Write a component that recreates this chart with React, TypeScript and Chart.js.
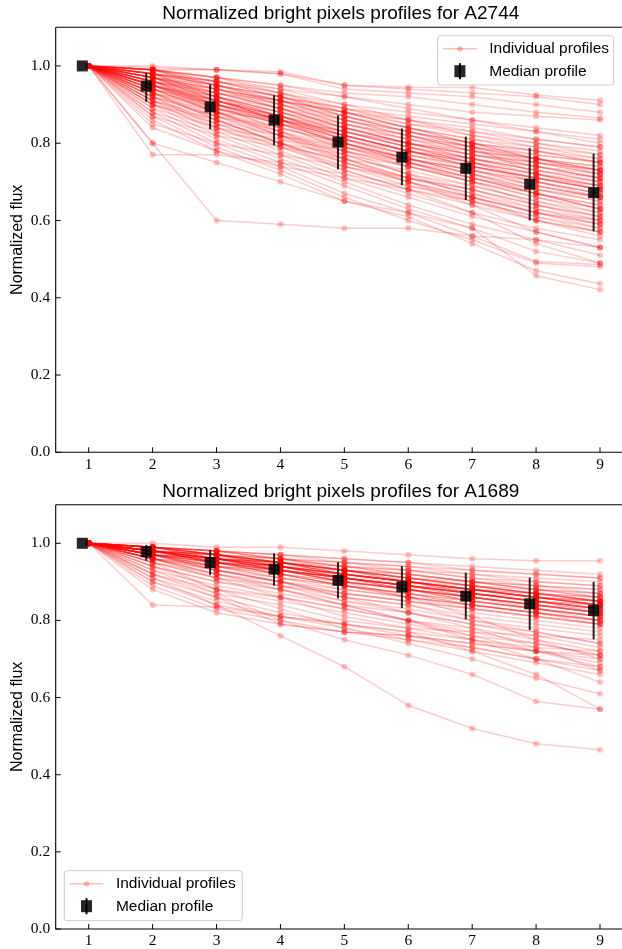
import React, { useEffect, useRef } from 'react';
import { Chart, registerables } from 'chart.js';

Chart.register(...registerables);

const steps = [1, 2, 3, 4, 5, 6, 7, 8, 9];
const xTicks = [1, 2, 3, 4, 5, 6, 7, 8, 9];
const yTicks = [0, 0.2, 0.4, 0.6, 0.8, 1.0];

const a2744Title = 'Normalized bright pixels profiles for A2744';
const a1689Title = 'Normalized bright pixels profiles for A1689';

const a2744Median = [1.0, 0.948, 0.894, 0.86, 0.803, 0.764, 0.735, 0.694, 0.672];
const a2744Low = [1.0, 0.907, 0.836, 0.795, 0.732, 0.691, 0.653, 0.6, 0.572];
const a2744High = [1.0, 0.981, 0.952, 0.924, 0.872, 0.838, 0.817, 0.788, 0.773];

const a1689Median = [1.0, 0.978, 0.95, 0.933, 0.904, 0.887, 0.863, 0.843, 0.826];
const a1689Low = [1.0, 0.955, 0.918, 0.89, 0.857, 0.832, 0.803, 0.775, 0.751];
const a1689High = [1.0, 0.996, 0.983, 0.974, 0.951, 0.941, 0.924, 0.911, 0.9];

const a2744Profiles: number[][] = [
  [1, 0.995, 0.99, 0.985, 0.95, 0.945, 0.944, 0.925, 0.911],
  [1, 0.99, 0.97, 0.95, 0.93, 0.92, 0.9, 0.88, 0.865],
  [1, 0.98, 0.96, 0.94, 0.92, 0.9, 0.88, 0.87, 0.86],
  [1, 0.99, 0.96, 0.93, 0.9, 0.88, 0.86, 0.84, 0.82],
  [1, 0.98, 0.95, 0.92, 0.89, 0.87, 0.85, 0.83, 0.81],
  [1, 0.97, 0.94, 0.91, 0.88, 0.86, 0.83, 0.81, 0.79],
  [1, 0.99, 0.95, 0.9, 0.86, 0.83, 0.8, 0.78, 0.76],
  [1, 0.98, 0.93, 0.89, 0.85, 0.82, 0.79, 0.76, 0.74],
  [1, 0.97, 0.92, 0.88, 0.84, 0.8, 0.77, 0.75, 0.72],
  [1, 0.96, 0.91, 0.87, 0.82, 0.78, 0.75, 0.72, 0.7],
  [1, 0.96, 0.9, 0.86, 0.81, 0.77, 0.74, 0.71, 0.68],
  [1, 0.95, 0.9, 0.85, 0.8, 0.76, 0.73, 0.7, 0.67],
  [1, 0.95, 0.89, 0.84, 0.79, 0.75, 0.72, 0.68, 0.66],
  [1, 0.94, 0.88, 0.83, 0.78, 0.74, 0.7, 0.67, 0.64],
  [1, 0.94, 0.88, 0.82, 0.77, 0.72, 0.69, 0.65, 0.62],
  [1, 0.93, 0.87, 0.81, 0.76, 0.71, 0.67, 0.63, 0.6],
  [1, 0.93, 0.86, 0.8, 0.75, 0.7, 0.66, 0.62, 0.59],
  [1, 0.92, 0.85, 0.79, 0.73, 0.68, 0.64, 0.6, 0.57],
  [1, 0.92, 0.84, 0.78, 0.72, 0.67, 0.62, 0.58, 0.55],
  [1, 0.91, 0.83, 0.77, 0.71, 0.66, 0.61, 0.57, 0.53],
  [1, 0.9, 0.82, 0.76, 0.7, 0.64, 0.59, 0.55, 0.51],
  [1, 0.89, 0.81, 0.75, 0.69, 0.63, 0.58, 0.52, 0.49],
  [1, 0.88, 0.8, 0.74, 0.67, 0.62, 0.56, 0.494, 0.486],
  [1, 0.87, 0.79, 0.73, 0.66, 0.6, 0.55, 0.49, 0.48],
  [1, 0.86, 0.78, 0.72, 0.65, 0.61, 0.54, 0.47, 0.436],
  [1, 0.8, 0.75, 0.7, 0.65, 0.62, 0.58, 0.457, 0.421],
  [1, 0.77, 0.77, 0.75, 0.72, 0.69, 0.66, 0.62, 0.6],
  [1, 0.8, 0.6, 0.59, 0.58, 0.58, 0.56, 0.55, 0.53],
  [1, 0.99, 0.99, 0.98, 0.95, 0.94, 0.93, 0.92, 0.9],
  [1, 1.0, 0.99, 0.98, 0.94, 0.93, 0.92, 0.9, 0.88],
  [1, 0.97, 0.93, 0.9, 0.87, 0.84, 0.81, 0.79, 0.77],
  [1, 0.96, 0.92, 0.89, 0.86, 0.83, 0.8, 0.78, 0.75],
  [1, 0.95, 0.91, 0.88, 0.85, 0.82, 0.78, 0.76, 0.73],
  [1, 0.97, 0.91, 0.86, 0.83, 0.79, 0.76, 0.73, 0.71],
  [1, 0.96, 0.89, 0.85, 0.82, 0.78, 0.76, 0.74, 0.72],
  [1, 0.95, 0.88, 0.86, 0.83, 0.8, 0.77, 0.75, 0.73],
  [1, 0.94, 0.9, 0.87, 0.84, 0.81, 0.79, 0.77, 0.75],
  [1, 0.93, 0.89, 0.86, 0.81, 0.78, 0.75, 0.72, 0.69],
  [1, 0.92, 0.87, 0.84, 0.8, 0.76, 0.73, 0.7, 0.67],
  [1, 0.91, 0.86, 0.82, 0.78, 0.74, 0.71, 0.68, 0.65],
  [1, 0.9, 0.85, 0.82, 0.79, 0.76, 0.72, 0.69, 0.66],
  [1, 0.89, 0.84, 0.81, 0.78, 0.75, 0.71, 0.67, 0.63],
  [1, 0.88, 0.83, 0.8, 0.77, 0.74, 0.7, 0.66, 0.62],
  [1, 0.87, 0.82, 0.79, 0.76, 0.73, 0.69, 0.65, 0.61],
  [1, 0.99, 0.97, 0.93, 0.88, 0.84, 0.8, 0.76, 0.73],
  [1, 0.98, 0.94, 0.9, 0.85, 0.81, 0.78, 0.74, 0.71],
  [1, 0.97, 0.93, 0.89, 0.84, 0.8, 0.76, 0.73, 0.7],
  [1, 0.96, 0.94, 0.91, 0.87, 0.83, 0.79, 0.75, 0.73],
  [1, 0.95, 0.92, 0.88, 0.83, 0.79, 0.75, 0.71, 0.68],
  [1, 0.94, 0.91, 0.87, 0.82, 0.78, 0.74, 0.7, 0.67],
  [1, 0.98, 0.96, 0.92, 0.87, 0.83, 0.79, 0.72, 0.68],
  [1, 0.99, 0.97, 0.94, 0.9, 0.86, 0.82, 0.79, 0.76],
  [1, 0.97, 0.95, 0.92, 0.89, 0.86, 0.84, 0.81, 0.79],
  [1, 0.96, 0.93, 0.91, 0.88, 0.85, 0.83, 0.8, 0.78],
  [1, 0.93, 0.9, 0.86, 0.8, 0.75, 0.7, 0.64, 0.6],
  [1, 0.92, 0.88, 0.83, 0.77, 0.72, 0.66, 0.6, 0.56],
  [1, 0.91, 0.87, 0.82, 0.75, 0.7, 0.64, 0.57, 0.53],
  [1, 0.9, 0.86, 0.8, 0.73, 0.68, 0.62, 0.54, 0.49],
  [1, 0.85, 0.8, 0.77, 0.74, 0.71, 0.68, 0.64, 0.61],
  [1, 0.84, 0.78, 0.74, 0.71, 0.68, 0.65, 0.61, 0.58],
  [1, 0.95, 0.9, 0.83, 0.76, 0.7, 0.65, 0.6, 0.57],
  [1, 0.98, 0.92, 0.85, 0.78, 0.72, 0.68, 0.63, 0.59],
  [1, 0.99, 0.96, 0.92, 0.87, 0.83, 0.8, 0.77, 0.75],
  [1, 0.98, 0.95, 0.91, 0.86, 0.82, 0.79, 0.76, 0.73],
  [1, 0.97, 0.94, 0.9, 0.85, 0.81, 0.77, 0.74, 0.71],
  [1, 0.99, 0.94, 0.89, 0.84, 0.8, 0.76, 0.72, 0.69],
  [1, 0.98, 0.92, 0.87, 0.82, 0.78, 0.74, 0.71, 0.68],
  [1, 0.97, 0.91, 0.86, 0.81, 0.77, 0.73, 0.69, 0.66],
  [1, 0.96, 0.9, 0.85, 0.8, 0.76, 0.72, 0.68, 0.65],
  [1, 0.95, 0.89, 0.85, 0.8, 0.75, 0.71, 0.67, 0.64],
  [1, 0.96, 0.92, 0.88, 0.83, 0.79, 0.76, 0.73, 0.7],
  [1, 0.95, 0.91, 0.86, 0.82, 0.78, 0.75, 0.72, 0.69],
  [1, 0.94, 0.89, 0.85, 0.81, 0.77, 0.74, 0.71, 0.68],
  [1, 0.93, 0.88, 0.84, 0.8, 0.76, 0.73, 0.69, 0.66],
  [1, 0.92, 0.87, 0.83, 0.79, 0.75, 0.71, 0.67, 0.63],
  [1, 0.99, 0.95, 0.91, 0.88, 0.84, 0.81, 0.78, 0.75],
  [1, 0.98, 0.96, 0.93, 0.89, 0.85, 0.82, 0.8, 0.77],
  [1, 0.97, 0.94, 0.91, 0.86, 0.82, 0.78, 0.75, 0.72],
  [1, 0.96, 0.91, 0.87, 0.83, 0.79, 0.75, 0.7, 0.66],
  [1, 0.95, 0.9, 0.86, 0.79, 0.74, 0.7, 0.66, 0.63],
  [1, 0.94, 0.88, 0.82, 0.76, 0.71, 0.67, 0.62, 0.58],
  [1, 0.93, 0.86, 0.8, 0.74, 0.69, 0.65, 0.61, 0.57],
  [1, 0.91, 0.85, 0.8, 0.75, 0.71, 0.68, 0.64, 0.61],
  [1, 0.9, 0.84, 0.79, 0.74, 0.7, 0.66, 0.62, 0.59],
  [1, 0.97, 0.92, 0.87, 0.81, 0.76, 0.72, 0.67, 0.63],
  [1, 0.99, 0.97, 0.95, 0.92, 0.89, 0.86, 0.83, 0.8],
  [1, 0.98, 0.95, 0.92, 0.88, 0.84, 0.8, 0.76, 0.72],
  [1, 0.96, 0.93, 0.89, 0.84, 0.8, 0.77, 0.74, 0.71],
  [1, 0.95, 0.91, 0.87, 0.83, 0.8, 0.78, 0.76, 0.74],
  [1, 0.94, 0.9, 0.86, 0.82, 0.78, 0.74, 0.71, 0.69],
];

const a1689Profiles: number[][] = [
  [1, 1.0, 0.99, 0.99, 0.98, 0.97, 0.96, 0.955, 0.955],
  [1, 0.99, 0.98, 0.97, 0.96, 0.95, 0.94, 0.93, 0.92],
  [1, 0.99, 0.98, 0.96, 0.95, 0.94, 0.93, 0.92, 0.91],
  [1, 0.99, 0.97, 0.96, 0.94, 0.93, 0.92, 0.9, 0.89],
  [1, 0.99, 0.97, 0.95, 0.93, 0.92, 0.9, 0.89, 0.88],
  [1, 0.98, 0.96, 0.95, 0.93, 0.91, 0.89, 0.88, 0.87],
  [1, 0.98, 0.96, 0.94, 0.92, 0.9, 0.88, 0.87, 0.86],
  [1, 0.98, 0.96, 0.94, 0.91, 0.89, 0.88, 0.86, 0.85],
  [1, 0.98, 0.95, 0.93, 0.91, 0.89, 0.87, 0.85, 0.84],
  [1, 0.98, 0.95, 0.93, 0.9, 0.88, 0.86, 0.84, 0.83],
  [1, 0.97, 0.95, 0.92, 0.9, 0.88, 0.86, 0.84, 0.82],
  [1, 0.97, 0.94, 0.92, 0.89, 0.87, 0.85, 0.83, 0.81],
  [1, 0.97, 0.94, 0.91, 0.89, 0.87, 0.84, 0.82, 0.8],
  [1, 0.97, 0.93, 0.91, 0.88, 0.86, 0.83, 0.81, 0.79],
  [1, 0.96, 0.93, 0.9, 0.88, 0.86, 0.84, 0.82, 0.8],
  [1, 0.96, 0.93, 0.9, 0.87, 0.85, 0.83, 0.81, 0.79],
  [1, 0.96, 0.92, 0.9, 0.87, 0.85, 0.82, 0.8, 0.78],
  [1, 0.99, 0.97, 0.95, 0.92, 0.9, 0.88, 0.86, 0.84],
  [1, 0.99, 0.96, 0.94, 0.91, 0.89, 0.86, 0.84, 0.82],
  [1, 0.98, 0.97, 0.95, 0.93, 0.91, 0.89, 0.87, 0.85],
  [1, 0.98, 0.95, 0.94, 0.92, 0.9, 0.88, 0.86, 0.84],
  [1, 0.97, 0.96, 0.94, 0.92, 0.9, 0.87, 0.85, 0.83],
  [1, 0.99, 0.98, 0.96, 0.94, 0.92, 0.9, 0.88, 0.86],
  [1, 0.98, 0.96, 0.93, 0.91, 0.89, 0.87, 0.85, 0.83],
  [1, 0.97, 0.95, 0.93, 0.91, 0.88, 0.86, 0.84, 0.82],
  [1, 0.99, 0.97, 0.94, 0.91, 0.88, 0.85, 0.83, 0.81],
  [1, 0.98, 0.95, 0.92, 0.89, 0.86, 0.84, 0.82, 0.8],
  [1, 0.95, 0.92, 0.89, 0.87, 0.85, 0.83, 0.81, 0.79],
  [1, 0.95, 0.91, 0.89, 0.86, 0.84, 0.81, 0.79, 0.77],
  [1, 0.94, 0.9, 0.88, 0.85, 0.83, 0.8, 0.78, 0.76],
  [1, 0.94, 0.9, 0.87, 0.84, 0.82, 0.79, 0.77, 0.74],
  [1, 0.93, 0.89, 0.86, 0.83, 0.8, 0.78, 0.75, 0.72],
  [1, 0.92, 0.88, 0.85, 0.82, 0.79, 0.76, 0.74, 0.71],
  [1, 0.92, 0.87, 0.84, 0.8, 0.78, 0.75, 0.72, 0.69],
  [1, 0.91, 0.86, 0.82, 0.79, 0.76, 0.73, 0.7, 0.67],
  [1, 0.9, 0.84, 0.81, 0.78, 0.75, 0.72, 0.69, 0.66],
  [1, 0.89, 0.83, 0.8, 0.77, 0.75, 0.73, 0.7, 0.68],
  [1, 0.88, 0.82, 0.79, 0.77, 0.76, 0.74, 0.72, 0.7],
  [1, 0.84, 0.835, 0.81, 0.79, 0.77, 0.75, 0.73, 0.72],
  [1, 0.91, 0.84, 0.76, 0.68, 0.58, 0.52, 0.48, 0.465],
  [1, 0.93, 0.87, 0.8, 0.75, 0.71, 0.66, 0.59, 0.57],
  [1, 0.95, 0.88, 0.83, 0.78, 0.74, 0.7, 0.65, 0.61],
  [1, 0.96, 0.92, 0.88, 0.84, 0.8, 0.75, 0.7, 0.64],
  [1, 0.97, 0.93, 0.9, 0.86, 0.82, 0.78, 0.73, 0.67],
  [1, 0.98, 0.96, 0.93, 0.9, 0.86, 0.81, 0.75, 0.7],
  [1, 0.92, 0.86, 0.79, 0.77, 0.76, 0.74, 0.72, 0.71],
  [1, 0.96, 0.91, 0.86, 0.81, 0.78, 0.77, 0.76, 0.75],
  [1, 0.9, 0.85, 0.81, 0.79, 0.77, 0.72, 0.66, 0.57],
  [1, 0.99, 0.98, 0.97, 0.95, 0.94, 0.92, 0.91, 0.9],
  [1, 0.99, 0.97, 0.96, 0.95, 0.93, 0.91, 0.9, 0.89],
  [1, 0.98, 0.97, 0.96, 0.94, 0.92, 0.9, 0.89, 0.88],
  [1, 0.99, 0.98, 0.97, 0.96, 0.95, 0.93, 0.92, 0.91],
  [1, 0.98, 0.97, 0.95, 0.94, 0.93, 0.91, 0.89, 0.87],
  [1, 0.97, 0.96, 0.95, 0.93, 0.92, 0.9, 0.88, 0.86],
  [1, 0.97, 0.96, 0.94, 0.93, 0.91, 0.89, 0.87, 0.85],
  [1, 0.98, 0.96, 0.95, 0.93, 0.91, 0.9, 0.88, 0.87],
  [1, 0.98, 0.97, 0.95, 0.92, 0.9, 0.89, 0.87, 0.86],
  [1, 0.97, 0.95, 0.94, 0.92, 0.9, 0.88, 0.86, 0.85],
  [1, 0.96, 0.94, 0.93, 0.91, 0.89, 0.87, 0.85, 0.84],
  [1, 0.96, 0.95, 0.93, 0.91, 0.89, 0.87, 0.86, 0.84],
  [1, 0.99, 0.97, 0.95, 0.93, 0.91, 0.89, 0.87, 0.85],
  [1, 0.98, 0.96, 0.94, 0.92, 0.9, 0.88, 0.86, 0.84],
  [1, 0.98, 0.96, 0.93, 0.91, 0.89, 0.87, 0.85, 0.83],
  [1, 0.99, 0.96, 0.94, 0.92, 0.89, 0.87, 0.85, 0.83],
  [1, 0.98, 0.95, 0.93, 0.91, 0.88, 0.86, 0.84, 0.82],
  [1, 0.97, 0.95, 0.93, 0.9, 0.88, 0.86, 0.83, 0.81],
  [1, 0.98, 0.96, 0.94, 0.91, 0.89, 0.86, 0.84, 0.82],
  [1, 0.99, 0.97, 0.94, 0.92, 0.9, 0.88, 0.86, 0.85],
  [1, 0.98, 0.95, 0.94, 0.91, 0.89, 0.87, 0.85, 0.83],
  [1, 0.97, 0.94, 0.93, 0.9, 0.88, 0.85, 0.83, 0.81],
  [1, 0.98, 0.96, 0.95, 0.92, 0.9, 0.88, 0.86, 0.84],
  [1, 0.97, 0.96, 0.93, 0.91, 0.89, 0.87, 0.85, 0.82],
  [1, 0.99, 0.97, 0.95, 0.92, 0.9, 0.87, 0.85, 0.83],
  [1, 0.98, 0.95, 0.92, 0.9, 0.88, 0.86, 0.84, 0.82],
  [1, 0.97, 0.95, 0.92, 0.89, 0.87, 0.85, 0.83, 0.8],
  [1, 0.98, 0.97, 0.94, 0.92, 0.9, 0.88, 0.87, 0.85],
  [1, 0.99, 0.96, 0.95, 0.93, 0.9, 0.88, 0.86, 0.84],
  [1, 0.97, 0.94, 0.92, 0.89, 0.87, 0.84, 0.82, 0.8],
  [1, 0.96, 0.94, 0.91, 0.89, 0.86, 0.84, 0.82, 0.79],
  [1, 0.98, 0.96, 0.93, 0.9, 0.88, 0.85, 0.83, 0.81],
  [1, 0.99, 0.98, 0.96, 0.93, 0.91, 0.89, 0.87, 0.85],
  [1, 0.98, 0.97, 0.95, 0.93, 0.9, 0.88, 0.86, 0.84],
  [1, 0.97, 0.93, 0.9, 0.86, 0.84, 0.8, 0.77, 0.74],
  [1, 0.96, 0.92, 0.89, 0.85, 0.82, 0.79, 0.76, 0.73],
  [1, 0.95, 0.91, 0.88, 0.84, 0.8, 0.77, 0.74, 0.71],
  [1, 0.94, 0.88, 0.86, 0.83, 0.8, 0.76, 0.72, 0.68],
];

const SANS = '"Liberation Sans", Arial, Helvetica, sans-serif';
const SERIF = '"Liberation Serif", "Times New Roman", serif';
const RED_LINE = 'rgba(255,0,0,0.2)';
const RED_DOT = 'rgba(255,0,0,0.24)';
const DARK = 'rgba(0,0,0,0.85)';
const TICK1_PX = 88.7;
const TICK9_PX = 600;

type PanelSpec = {
  title: string;
  profiles: number[][];
  median: number[];
  low: number[];
  high: number[];
  height: number;
  top: number;
  bottom: number;
  legend: { x: number; y: number; w: number; h: number };
};

function makeDecor(spec: PanelSpec) {
  return {
    id: 'decor',
    afterLayout(chart: any) {
      const xs = chart.scales.x;
      const a = chart.chartArea;
      const unit = (TICK9_PX - TICK1_PX) / 8;
      xs.min = 1 - (TICK1_PX - a.left) / unit;
      xs.max = 9 + (a.right - TICK9_PX) / unit;
      xs.configure();
    },
    beforeDatasetDraw(chart: any, args: any) {
      if (args.index !== 0) return;
      const ctx = chart.ctx;
      const xs = chart.scales.x;
      const ys = chart.scales.y;
      ctx.save();
      ctx.strokeStyle = DARK;
      ctx.lineWidth = 2;
      steps.forEach((s, i) => {
        if (spec.high[i] - spec.low[i] <= 0) return;
        const px = xs.getPixelForValue(s - 0.1);
        ctx.beginPath();
        ctx.moveTo(px, ys.getPixelForValue(spec.low[i]));
        ctx.lineTo(px, ys.getPixelForValue(spec.high[i]));
        ctx.stroke();
      });
      ctx.restore();
    },
    afterDraw(chart: any) {
      const ctx = chart.ctx;
      const a = chart.chartArea;
      const xs = chart.scales.x;
      const ys = chart.scales.y;
      ctx.save();
      ctx.strokeStyle = '#000';
      ctx.lineWidth = 1.1;
      ctx.beginPath();
      ctx.moveTo(a.left, a.top);
      ctx.lineTo(chart.width, a.top);
      ctx.moveTo(a.left, a.top);
      ctx.lineTo(a.left, a.bottom);
      ctx.lineTo(chart.width, a.bottom);
      ctx.stroke();
      ctx.lineWidth = 1;
      ctx.beginPath();
      xTicks.forEach((t) => {
        const px = xs.getPixelForValue(t);
        ctx.moveTo(px, a.bottom);
        ctx.lineTo(px, a.bottom - 5);
      });
      yTicks.forEach((t) => {
        const py = ys.getPixelForValue(t);
        ctx.moveTo(a.left, py);
        ctx.lineTo(a.left + 5, py);
      });
      ctx.stroke();
      ctx.fillStyle = '#000';
      ctx.font = `19px ${SANS}`;
      ctx.textAlign = 'center';
      ctx.textBaseline = 'alphabetic';
      ctx.fillText(spec.title, 340.8, a.top - 8);
      ctx.save();
      ctx.translate(21.5, (a.top + a.bottom) / 2);
      ctx.rotate(-Math.PI / 2);
      ctx.font = `16px ${SANS}`;
      ctx.textAlign = 'center';
      ctx.textBaseline = 'alphabetic';
      ctx.fillText('Normalized flux', 0, 0);
      ctx.restore();
      const L = spec.legend;
      ctx.beginPath();
      const r = 3;
      ctx.moveTo(L.x + r, L.y);
      ctx.lineTo(L.x + L.w - r, L.y);
      ctx.arcTo(L.x + L.w, L.y, L.x + L.w, L.y + r, r);
      ctx.lineTo(L.x + L.w, L.y + L.h - r);
      ctx.arcTo(L.x + L.w, L.y + L.h, L.x + L.w - r, L.y + L.h, r);
      ctx.lineTo(L.x + r, L.y + L.h);
      ctx.arcTo(L.x, L.y + L.h, L.x, L.y + L.h - r, r);
      ctx.lineTo(L.x, L.y + r);
      ctx.arcTo(L.x, L.y, L.x + r, L.y, r);
      ctx.closePath();
      ctx.fillStyle = 'rgba(255,255,255,0.8)';
      ctx.fill();
      ctx.strokeStyle = '#cccccc';
      ctx.lineWidth = 1;
      ctx.stroke();
      const y1 = L.y + 13;
      const y2 = L.y + 35.5;
      ctx.strokeStyle = 'rgba(255,0,0,0.25)';
      ctx.lineWidth = 1.5;
      ctx.beginPath();
      ctx.moveTo(L.x + 5.3, y1);
      ctx.lineTo(L.x + 39, y1);
      ctx.stroke();
      ctx.fillStyle = 'rgba(255,0,0,0.25)';
      ctx.beginPath();
      ctx.arc(L.x + 22.2, y1, 2.8, 0, Math.PI * 2);
      ctx.fill();
      ctx.fillStyle = DARK;
      ctx.fillRect(L.x + 22.2 - 5.5, y2 - 6, 11, 12);
      ctx.strokeStyle = '#000';
      ctx.lineWidth = 2;
      ctx.beginPath();
      ctx.moveTo(L.x + 22.2, y2 - 8);
      ctx.lineTo(L.x + 22.2, y2 + 8);
      ctx.stroke();
      ctx.fillStyle = '#000';
      ctx.font = `15.5px ${SANS}`;
      ctx.textAlign = 'left';
      ctx.textBaseline = 'middle';
      ctx.fillText('Individual profiles', L.x + 51.6, y1 + 0.5);
      ctx.fillText('Median profile', L.x + 51.6, y2 + 0.5);
      ctx.restore();
    },
  };
}

function buildConfig(spec: PanelSpec): any {
  const datasets: any[] = [];
  datasets.push({
    label: 'Median profile',
    data: steps.map((s, i) => ({ x: s - 0.1, y: spec.median[i] })),
    showLine: false,
    pointStyle: 'rect',
    pointRadius: 7.8,
    pointBackgroundColor: DARK,
    pointBorderColor: DARK,
    pointBorderWidth: 0,
    order: 0,
    clip: false,
  });
  spec.profiles.forEach((p) => {
    datasets.push({
      label: 'Individual profiles',
      data: steps.map((s, i) => ({ x: s, y: p[i] })),
      showLine: true,
      borderColor: RED_LINE,
      borderWidth: 1.5,
      pointRadius: 3,
      pointBackgroundColor: RED_DOT,
      pointBorderColor: RED_DOT,
      pointBorderWidth: 0,
      tension: 0,
      order: 1,
    });
  });
  const xAxisH = 20;
  return {
    type: 'scatter',
    data: { datasets },
    plugins: [makeDecor(spec)],
    options: {
      responsive: false,
      devicePixelRatio: 1,
      animation: false,
      events: [],
      layout: {
        padding: { top: spec.top, left: 0, right: 0, bottom: spec.height - xAxisH - spec.bottom },
      },
      plugins: { legend: { display: false }, tooltip: { enabled: false }, title: { display: false } },
      scales: {
        x: {
          type: 'linear',
          min: 0.495,
          max: 9.357,
          grid: { display: false, drawTicks: false },
          border: { display: false },
          afterBuildTicks: (scale: any) => {
            scale.ticks = xTicks.map((v) => ({ value: v }));
          },
          afterFit: (scale: any) => {
            scale.height = xAxisH;
            scale.paddingLeft = 0;
            scale.paddingRight = 0;
          },
          ticks: {
            autoSkip: false,
            maxRotation: 0,
            padding: 3,
            color: '#000',
            font: { family: SERIF, size: 15.5 },
            callback: (v: any) => String(v),
          },
        },
        y: {
          type: 'linear',
          min: 0,
          max: 1.1,
          grid: { display: false, drawTicks: false },
          border: { display: false },
          afterBuildTicks: (scale: any) => {
            scale.ticks = yTicks.map((v) => ({ value: v }));
          },
          afterFit: (scale: any) => {
            scale.width = 55.7;
            scale.paddingTop = 0;
            scale.paddingBottom = 0;
          },
          ticks: {
            autoSkip: false,
            padding: 5.5,
            color: '#000',
            font: { family: SERIF, size: 15.5 },
            callback: (v: any) => Number(v).toFixed(1),
          },
        },
      },
    },
  };
}

const topSpec: PanelSpec = {
  title: a2744Title,
  profiles: a2744Profiles,
  median: a2744Median,
  low: a2744Low,
  high: a2744High,
  height: 478,
  top: 27.3,
  bottom: 452.3,
  legend: { x: 437.7, y: 35.7, w: 176, h: 49.3 },
};

const bottomSpec: PanelSpec = {
  title: a1689Title,
  profiles: a1689Profiles,
  median: a1689Median,
  low: a1689Low,
  high: a1689High,
  height: 471,
  top: 26.7,
  bottom: 451,
  legend: { x: 64.3, y: 392.7, w: 178, h: 50 },
};

function Panel({ spec, offset }: { spec: PanelSpec; offset: number }) {
  const ref = useRef<HTMLCanvasElement | null>(null);
  useEffect(() => {
    if (!ref.current) return;
    const chart = new Chart(ref.current, buildConfig(spec));
    return () => chart.destroy();
  }, [spec]);
  return (
    <canvas
      ref={ref}
      width={622}
      height={spec.height}
      style={{ position: 'absolute', left: 0, top: offset, width: 622, height: spec.height, display: 'block' }}
    />
  );
}

export default function App() {
  return (
    <div style={{ position: 'absolute', left: 0, top: 0, width: 622, height: 949, background: '#fff', overflow: 'hidden' }}>
      <Panel spec={topSpec} offset={0} />
      <Panel spec={bottomSpec} offset={478} />
    </div>
  );
}
